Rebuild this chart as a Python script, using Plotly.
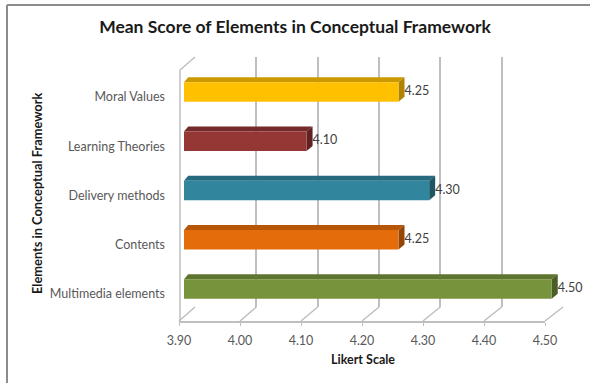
import plotly.graph_objects as go

# ---- data ----
categories = ["Moral Values", "Learning Theories", "Delivery methods", "Contents", "Multimedia elements"]
values = [4.25, 4.10, 4.30, 4.25, 4.50]
front_colors = ["#FFC000", "#953735", "#31859C", "#E46C0A", "#77933C"]
top_colors = ["#CC9A00", "#76292A", "#266A7D", "#B65608", "#5E7530"]
side_colors = ["#B08400", "#5F2121", "#1F5664", "#934606", "#4B5E26"]
x_ticks = [3.90, 4.00, 4.10, 4.20, 4.30, 4.40, 4.50]

W, H = 590, 383
FONT = "Lato"


def px(x):
    return x / W


def py(y):
    return 1 - y / H


idx = list(range(len(categories)))
BAR_W = 0.4

# geometry (pixel boxes of the pseudo-3D parts)
WALL = dict(x0=195, x1=563, y0=57, y1=307)      # back wall (grid)
BARS = dict(x0=184, x1=564, y0=67.4, y1=313.6)  # bar plane
FLOOR = dict(x0=179, x1=545, y=321)             # front floor edge
XR_BARS = [3.9, 4.52]
XR = [3.9, 4.5]

unit_px = (BARS["x1"] - BARS["x0"]) / (XR_BARS[1] - XR_BARS[0])
dx = 6 / unit_px
dy = 5 / ((BARS["y1"] - BARS["y0"]) / len(categories))

fig = go.Figure()

# back wall subplot (gridlines only)
fig.add_trace(go.Scatter(x=[None], y=[None], xaxis="x", yaxis="y", showlegend=False, hoverinfo="skip"))

# bars subplot
fig.add_trace(go.Bar(
    x=values, y=idx, orientation="h", width=BAR_W,
    marker=dict(color=front_colors, line=dict(width=0)),
    xaxis="x2", yaxis="y2", showlegend=False,
))
fig.add_trace(go.Scatter(
    x=[v + dx for v in values], y=idx, mode="text",
    text=[f"{v:.2f}" for v in values], textposition="middle right",
    textfont=dict(family=FONT, size=12.5, color="#404040"),
    xaxis="x2", yaxis="y2", cliponaxis=False, showlegend=False, hoverinfo="skip",
))

# floor subplot (tick labels)
fig.add_trace(go.Scatter(x=[None], y=[None], xaxis="x3", yaxis="y3", showlegend=False, hoverinfo="skip"))

# 3D faces of bars, derived from data values
shapes = []
for i, v in enumerate(values):
    t = i - BAR_W / 2
    b = i + BAR_W / 2
    x0 = XR[0]
    shapes.append(dict(type="path", xref="x2", yref="y2", layer="below",
                       path=f"M {x0},{t} L {v},{t} L {v+dx},{t-dy} L {x0+dx*0.7},{t-dy} Z",
                       fillcolor=top_colors[i], line=dict(width=0)))
    shapes.append(dict(type="path", xref="x2", yref="y2", layer="below",
                       path=f"M {v},{t} L {v+dx},{t-dy} L {v+dx},{b-dy} L {v},{b} Z",
                       fillcolor=side_colors[i], line=dict(width=0)))

# walls/floor decoration lines
gray = "#BFBFBF"
shapes.append(dict(type="line", xref="paper", yref="paper",
                   x0=px(180), y0=py(70), x1=px(180), y1=py(FLOOR["y"]), line=dict(color=gray, width=1.5)))
shapes.append(dict(type="line", xref="paper", yref="paper",
                   x0=px(180), y0=py(70), x1=px(WALL["x0"]), y1=py(WALL["y0"]), line=dict(color=gray, width=1.5)))
for k, tv in enumerate(x_ticks):
    fx = FLOOR["x0"] + (tv - XR[0]) / (XR[1] - XR[0]) * (FLOOR["x1"] - FLOOR["x0"])
    bx = WALL["x0"] + (tv - XR[0]) / (XR[1] - XR[0]) * (WALL["x1"] - WALL["x0"])
    shapes.append(dict(type="line", xref="paper", yref="paper",
                       x0=px(fx), y0=py(FLOOR["y"]), x1=px(bx), y1=py(WALL["y1"]),
                       line=dict(color=gray, width=1.5)))

# outer border (top and left visible)
shapes.append(dict(type="line", xref="paper", yref="paper", x0=px(7), y0=py(5), x1=1.0, y1=py(5),
                   line=dict(color="#8C8C8C", width=2)))
shapes.append(dict(type="line", xref="paper", yref="paper", x0=px(7), y0=py(5), x1=px(7), y1=0,
                   line=dict(color="#8C8C8C", width=2)))

fig.update_layout(
    width=W, height=H, autosize=False,
    margin=dict(l=0, r=0, t=0, b=0),
    paper_bgcolor="white", plot_bgcolor="rgba(0,0,0,0)",
    font=dict(family=FONT, size=12.5, color="#595959"),
    title=dict(text="<b>Mean Score of Elements in Conceptual Framework</b>",
               x=0.5, xanchor="center", y=py(27), yanchor="middle", xref="paper", yref="paper",
               font=dict(family=FONT, size=17.5, color="#1A1A1A")),
    xaxis=dict(domain=[px(WALL["x0"]), px(WALL["x1"])], range=XR, anchor="y",
               tickvals=x_ticks, showgrid=True, gridcolor=gray, gridwidth=1.5,
               showticklabels=False, zeroline=False, showline=False, ticks=""),
    yaxis=dict(domain=[py(WALL["y1"]), py(WALL["y0"])], range=[0, 1], anchor="x",
               visible=False, showgrid=False),
    xaxis2=dict(domain=[px(BARS["x0"]), px(BARS["x1"])], range=XR_BARS, anchor="y2",
                showgrid=False, zeroline=False, showticklabels=False, showline=False, ticks=""),
    yaxis2=dict(domain=[py(BARS["y1"]), py(BARS["y0"])], range=[len(categories) - 0.5, -0.5], anchor="x2",
                tickvals=idx, ticktext=categories, showgrid=False, zeroline=False, showline=False,
                ticks="", ticklabelstandoff=18, ticklabelshift=-5, automargin=False,
                tickfont=dict(family=FONT, size=12.5, color="#595959")),
    xaxis3=dict(domain=[px(FLOOR["x0"]), px(FLOOR["x1"])], range=XR, anchor="y3",
                tickvals=x_ticks, ticktext=[f"{t:.2f}" for t in x_ticks],
                showgrid=False, zeroline=False, showline=True, linecolor=gray, linewidth=1.5,
                ticks="outside", ticklen=3, tickcolor=gray, ticklabelstandoff=4, automargin=False,
                tickfont=dict(family=FONT, size=12.5, color="#595959")),
    yaxis3=dict(domain=[py(FLOOR["y"]), py(FLOOR["y"] - 1)], range=[0, 1], anchor="x3", visible=False),
    shapes=shapes,
    annotations=[
        dict(text="<b>Elements in Conceptual Framework</b>", x=px(37), y=py(194), xref="paper", yref="paper",
             textangle=-90, showarrow=False, font=dict(family=FONT, size=12.8, color="#1A1A1A"),
             xanchor="center", yanchor="middle"),
        dict(text="<b>Likert Scale</b>", x=px(363), y=py(359), xref="paper", yref="paper",
             showarrow=False, font=dict(family=FONT, size=12.5, color="#1A1A1A"),
             xanchor="center", yanchor="middle"),
    ],
)

fig.write_html("out.html")
